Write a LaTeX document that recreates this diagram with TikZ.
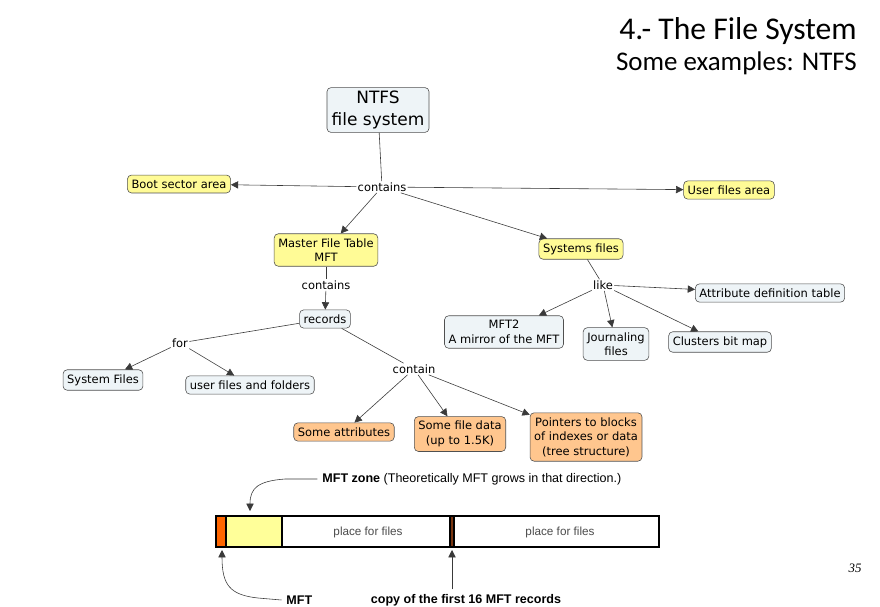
\documentclass[tikz,border=0pt]{standalone}
\usepackage{fontspec}
\usepackage{tikz}
\usetikzlibrary{positioning, arrows.meta}
\setmainfont{DejaVu Sans}
\newfontfamily\titlefont{Carlito}
\newfontfamily\barfont{Liberation Sans}
\newfontfamily\numfont{Liberation Serif}
\definecolor{bluefill}{HTML}{EEF4F7}
\definecolor{yellowfill}{HTML}{FFFB96}
\definecolor{orangefill}{HTML}{FFC68E}
\definecolor{boxline}{HTML}{505050}
\definecolor{linkgray}{HTML}{3A3A3A}
\definecolor{mftorange}{HTML}{FF6600}
\definecolor{mirrorbrown}{HTML}{7A3510}
\definecolor{zoneyellow}{HTML}{FFFF99}
\newcommand{\mapfont}{\fontsize{9.8}{12.3}\selectfont}
\tikzset{
  conceptbox/.style={
    draw=boxline, rounded corners=3.5pt, align=center,
    font=\mapfont, inner xsep=3.5pt, inner ysep=4pt, line width=0.5pt
  },
  bluebox/.style={conceptbox, fill=bluefill},
  yellowbox/.style={conceptbox, fill=yellowfill},
  orangebox/.style={conceptbox, fill=orangefill},
  linkword/.style={font=\mapfont, fill=white, inner sep=1pt},
  mapline/.style={draw=linkgray, line width=0.5pt},
  maparrow/.style={-{Triangle[length=2.2mm, width=2.2mm]}, draw=linkgray, line width=0.5pt},
  barseg/.style={draw=black, line width=1.3pt},
  bartext/.style={font=\barfont\fontsize{10}{12}\selectfont, text=black!70},
  barlabel/.style={font=\barfont\bfseries\fontsize{10.7}{12.8}\selectfont, inner sep=1pt}
}

\begin{document}
\begin{tikzpicture}[x=0.03cm, y=-0.03cm]
      \useasboundingbox (0,0) rectangle (880,606);

      % title
      \node[anchor=east, font=\titlefont\fontsize{27}{30}\selectfont, inner sep=0] (title) at (857,31) {4.- The File System};
      \node[anchor=east, font=\titlefont\fontsize{23}{26}\selectfont, inner sep=0] (subtitle) at (857,63) {Some examples: NTFS};

      % concept map
      \node[bluebox, font=\fontsize{14.5}{18.5}\selectfont, inner xsep=4pt, inner ysep=3pt] (ntfs) at (378,110) {NTFS\\file system};
      \node[linkword] (contains) at (382,187) {contains};
      \node[yellowbox] (boot) at (179,184) {Boot sector area};
      \node[yellowbox] (userarea) at (729,190) {User files area};
      \node[yellowbox] (mft) at (326,250) {Master File Table\\MFT};
      \node[yellowbox] (sysfiles) at (581,249) {Systems files};

      \node[linkword] (like) at (603,285) {like};
      \node[bluebox] (attrdef) at (770,293) {Attribute definition table};
      \node[bluebox] (mft2) at (504,332) {MFT2\\A mirror of the MFT};
      \node[bluebox] (journal) at (616,344) {Journaling\\files};
      \node[bluebox] (clusters) at (720,342) {Clusters bit map};

      \node[linkword] (mftcontains) at (326,285) {contains};
      \node[bluebox] (records) at (325,319) {records};
      \node[linkword] (for) at (180,343) {for};
      \node[bluebox] (sysrecs) at (103,380) {System Files};
      \node[bluebox] (userrecs) at (250,385) {user files and folders};
      \node[linkword] (contain) at (414,369) {contain};
      \node[orangebox] (attrs) at (344,432) {Some attributes};
      \node[orangebox] (filedata) at (460,434) {Some file data\\(up to 1.5K)};
      \node[orangebox] (pointers) at (586,437) {Pointers to blocks\\of indexes or data\\(tree structure)};

      \draw[mapline] (ntfs) -- (contains);
      \draw[maparrow] (contains) -- (boot);
      \draw[maparrow] (contains) -- (userarea);
      \draw[maparrow] (contains) -- (mft);
      \draw[maparrow] (contains) -- (sysfiles);

      \draw[mapline] (sysfiles) -- (like);
      \draw[maparrow] (like) -- (attrdef);
      \draw[maparrow] (like) -- (mft2);
      \draw[maparrow] (like) -- (journal);
      \draw[maparrow] (like) -- (clusters);

      \draw[mapline] (mft) -- (mftcontains);
      \draw[maparrow] (mftcontains) -- (records);
      \draw[mapline] (records) -- (for);
      \draw[maparrow] (for) -- (sysrecs);
      \draw[maparrow] (for) -- (userrecs);
      \draw[mapline] (records) -- (contain);
      \draw[maparrow] (contain) -- (attrs);
      \draw[maparrow] (contain) -- (filedata);
      \draw[maparrow] (contain) -- (pointers);

      % disk layout bar
      \draw[barseg, fill=mftorange] (216,516) rectangle (226,547);
      \draw[barseg, fill=zoneyellow] (226,516) rectangle (282,547);
      \draw[barseg, fill=white] (282,516) rectangle (450,547);
      \draw[barseg, fill=mirrorbrown] (450,516) rectangle (454,547);
      \draw[barseg, fill=white] (454,516) rectangle (659,547);
      \node[bartext] (files1) at (368,532) {place for files};
      \node[bartext] (files2) at (560,532) {place for files};

      \coordinate (zonetip) at (250,511);
      \coordinate (mfttip) at (222,550);
      \coordinate (copytip) at (452,550);

      \node[barlabel, anchor=west] (zonelabel) at (321,479) {MFT zone \mdseries(Theoretically MFT grows in that direction.)};
      \node[barlabel, anchor=west] (mftlabel) at (285,600) {MFT};
      \node[barlabel] (copylabel) at (466,600) {copy of the first 16 MFT records};

      \draw[maparrow] ([xshift=-3pt]zonelabel.west) -- (285,479) .. controls (258,481) and (250,488) .. (zonetip);
      \draw[maparrow] ([xshift=-3pt]mftlabel.west) -- (258,598) .. controls (230,595) and (222,585) .. (mfttip);
      \draw[maparrow] ([yshift=3pt]copylabel.north -| copytip) -- (copytip);

      % slide number
      \node[font=\numfont\itshape\fontsize{11}{13}\selectfont] (pagenum) at (855,568) {35};
\end{tikzpicture}
\end{document}
